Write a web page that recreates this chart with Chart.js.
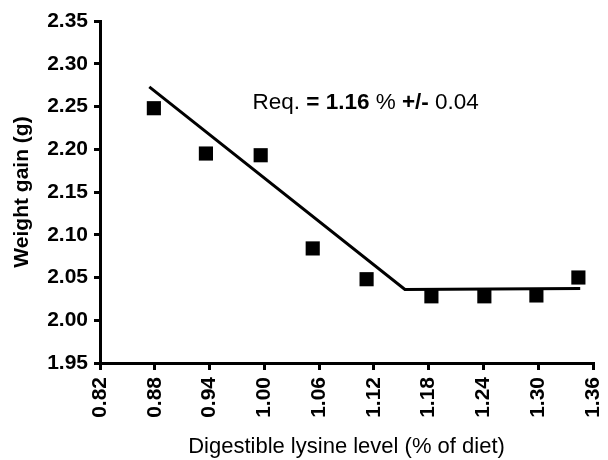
<!DOCTYPE html>
<html>
<head>
<meta charset="utf-8">
<script src="https://cdn.jsdelivr.net/npm/chart.js@4.4.0/dist/chart.umd.min.js"></script>
<style>
  html, body { margin: 0; padding: 0; background: #fff; }
  #wrap { width: 608px; height: 460px; }
</style>
</head>
<body>
<div id="wrap"><canvas id="myChart" width="608" height="460"></canvas></div>
<script>
var lysine = [0.879, 0.936, 0.996, 1.053, 1.112, 1.183, 1.241, 1.298, 1.344];
var gain   = [2.248, 2.195, 2.193, 2.084, 2.048, 2.028, 2.028, 2.029, 2.050];

// broken-line fit
var fitX = [0.874, 1.154, 1.346];
var fitY = [2.273, 2.036, 2.037];

var xTicks = [0.82, 0.88, 0.94, 1.00, 1.06, 1.12, 1.18, 1.24, 1.30, 1.36];
var yTicks = [1.95, 2.00, 2.05, 2.10, 2.15, 2.20, 2.25, 2.30, 2.35];

// annotation: text pieces and whether each is bold
var noteParts = [["Req. ", false], ["= 1.16 ", true], ["% ", false], ["+/-", true], [" 0.04", false]];
var noteAt = {x: 0.987, y: 2.247};

var FONT = "'Liberation Sans', Arial, sans-serif";

var pts = [];
for (var i = 0; i < lysine.length; i++) pts.push({x: lysine[i], y: gain[i]});
var fit = [];
for (var j = 0; j < fitX.length; j++) fit.push({x: fitX[j], y: fitY[j]});

var notePlugin = {
  id: 'note',
  afterDraw: function (chart) {
    var ctx = chart.ctx;
    var px = chart.scales.x.getPixelForValue(noteAt.x);
    var py = chart.scales.y.getPixelForValue(noteAt.y);
    ctx.save();
    ctx.fillStyle = '#000';
    ctx.textBaseline = 'alphabetic';
    ctx.textAlign = 'left';
    noteParts.forEach(function (p) {
      ctx.font = (p[1] ? 'bold ' : '') + '22.5px ' + FONT;
      ctx.fillText(p[0], px, py);
      px += ctx.measureText(p[0]).width;
    });
    ctx.restore();
  }
};

var ctx = document.getElementById("myChart");
var myChart = new Chart(ctx, {
  type: 'scatter',
  data: {
    datasets: [{
      label: 'fit',
      data: fit,
      showLine: true,
      borderColor: '#000',
      borderWidth: 3,
      pointRadius: 0,
      order: 1
    }, {
      label: 'weight gain',
      data: pts,
      pointStyle: 'rect',
      pointRadius: 10,
      pointBackgroundColor: '#000',
      pointBorderWidth: 0,
      order: 2
    }]
  },
  plugins: [notePlugin],
  options: {
    responsive: false,
    animation: false,
    devicePixelRatio: 1,
    layout: { padding: { top: 21, right: 15, left: 0, bottom: 0 } },
    plugins: { legend: { display: false }, tooltip: { enabled: false } },
    scales: {
      x: {
        type: 'linear',
        min: xTicks[0],
        max: xTicks[xTicks.length - 1],
        afterBuildTicks: function (axis) {
          axis.ticks = xTicks.map(function (v) { return {value: v}; });
        },
        afterFit: function (axis) {
          axis.height = 97;
          axis.paddingLeft = 0;
          axis.paddingRight = 0;
        },
        border: { display: true, color: '#000', width: 3 },
        grid: { drawOnChartArea: false, color: '#000', lineWidth: 3, tickLength: 7 },
        ticks: {
          color: '#000',
          minRotation: 90,
          maxRotation: 90,
          padding: 7,
          font: { family: FONT, size: 21, weight: 'bold' },
          callback: function (v) { return Number(v).toFixed(2); }
        },
        title: {
          display: true,
          text: 'Digestible lysine level (% of diet)',
          color: '#000',
          font: { family: FONT, size: 22 },
          padding: { top: 7, bottom: 0 }
        }
      },
      y: {
        min: yTicks[0],
        max: yTicks[yTicks.length - 1],
        afterBuildTicks: function (axis) {
          axis.ticks = yTicks.map(function (v) { return {value: v}; });
        },
        afterFit: function (axis) {
          axis.width = 100;
          axis.paddingTop = 0;
          axis.paddingBottom = 0;
        },
        border: { display: true, color: '#000', width: 3 },
        grid: { drawOnChartArea: false, color: '#000', lineWidth: 3, tickLength: 6 },
        ticks: {
          color: '#000',
          padding: 6,
          font: { family: FONT, size: 21, weight: 'bold' },
          callback: function (v) { return Number(v).toFixed(2); }
        },
        title: {
          display: true,
          text: 'Weight gain (g)',
          color: '#000',
          font: { family: FONT, size: 21, weight: 'bold' },
          padding: { top: 10, bottom: 0 }
        }
      }
    }
  }
});
</script>
</body>
</html>
